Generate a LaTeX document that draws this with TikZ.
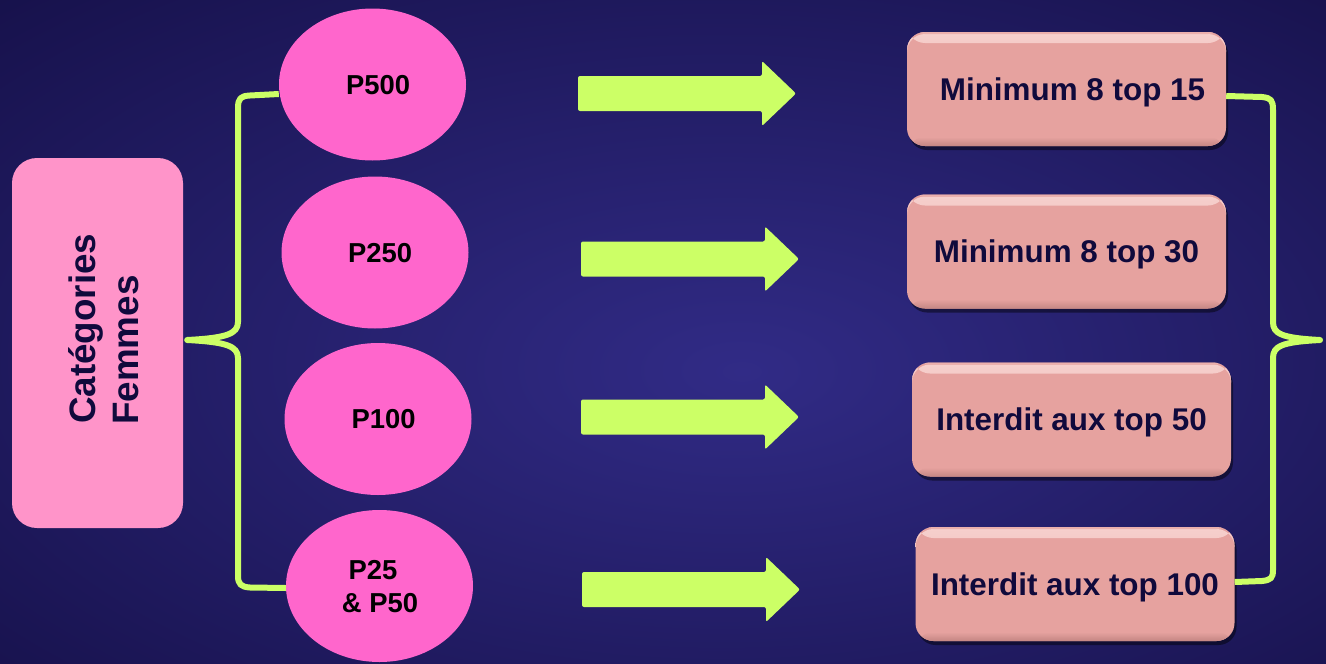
\documentclass[tikz,border=0pt]{standalone}
\usepackage{fontspec}
\setmainfont{Liberation Sans}
\usetikzlibrary{shapes.geometric,shadows,calc}
\definecolor{bgin}{RGB}{49,43,134}
\definecolor{bgout}{RGB}{13,8,54}
\definecolor{lime}{HTML}{CCFF66}
\definecolor{catpink}{HTML}{FF94C9}
\definecolor{ovpink}{HTML}{FF66CC}
\definecolor{salmon}{HTML}{E6A29F}
\definecolor{salmonhi}{HTML}{F6D0CD}
\definecolor{salmonlo}{HTML}{C48683}
\definecolor{navy}{HTML}{100A3C}
\pgfdeclareradialshading{bgshade}{\pgfpoint{3bp}{-3bp}}{color(0bp)=(bgin); color(52bp)=(bgout); color(80bp)=(bgout)}
\tikzset{
  catbox/.style={rectangle, rounded corners=25pt, fill=catpink, minimum width=171pt, minimum height=370pt, inner sep=0pt},
  cattext/.style={rotate=90, anchor=base west, inner sep=0pt, text=navy, font=\bfseries\fontsize{36.8pt}{43pt}\selectfont},
  oval/.style={ellipse, fill=ovpink, minimum width=187pt, minimum height=152pt, inner sep=0pt, text=black, align=center, text depth=0pt, font=\bfseries\fontsize{27.4pt}{33pt}\selectfont},
  rulebox/.style={rectangle, rounded corners=18pt, fill=salmon, minimum width=319pt, minimum height=114pt, inner sep=0pt, text=navy, text depth=0pt,
    font=\bfseries\fontsize{31.4pt}{37pt}\selectfont,
    drop shadow={shadow xshift=2pt, shadow yshift=-4pt, opacity=0.45, fill=black},
    path picture={
      \shade[top color=salmonhi, bottom color=salmon] ([yshift=-2pt]path picture bounding box.north west) rectangle ([yshift=-11pt]path picture bounding box.north east);
      \fill[salmon!70!salmonhi] (path picture bounding box.north west) rectangle ([yshift=-2pt]path picture bounding box.north east);
      \shade[top color=salmon, bottom color=salmonlo] ([yshift=9pt]path picture bounding box.south west) rectangle (path picture bounding box.south east);
    }},
  bracket/.style={draw=lime, line width=6pt, line join=round},
  fatarrow/.pic={\fill[lime, rounded corners=2pt] (0,-17.5) -- (184,-17.5) -- (184,-32.5) -- (218,0) -- (184,32.5) -- (184,17.5) -- (0,17.5) -- cycle;}
}
\begin{document}
\begin{tikzpicture}[x=1pt,y=-1pt]
\useasboundingbox (0,0) rectangle (1326,664);
\shade[shading=bgshade] (0,0) rectangle (1326,664);

% left category box
\node[catbox] (cat) at (97.5,343) {};
\node[cattext] (catl1) at (95,424) {Catégories};
\node[cattext] (catl2) at (138,425) {Femmes};

% ellipses
\node[oval] (p500) at (372.5,84.5) {\rule{11pt}{0pt}P500};
\node[oval] (p250) at (375,252.5) {\rule{10pt}{0pt}P250};
\node[oval] (p100) at (378,419) {\rule{11pt}{0pt}P100};
\node[oval] (p25) at (379.5,586) {P25\rule{13pt}{0pt}\\ \rule{1pt}{0pt}\& P50};

% arrows
\pic (a1) at (578,93.5) {fatarrow};
\pic (a2) at (581,259) {fatarrow};
\pic (a3) at (581,417) {fatarrow};
\pic (a4) at (582,589.5) {fatarrow};

% right boxes
\node[rulebox] (b1) at (1066.5,89) {\rule{12pt}{0pt}Minimum 8 top 15};
\node[rulebox] (b2) at (1066.5,251.5) {Minimum 8 top 30};
\node[rulebox] (b3) at (1071.5,419.5) {Interdit aux top 50};
\node[rulebox] (b4) at (1075,584) {Interdit aux top 100};

% left brace
\draw[bracket] ([yshift=-9.5pt]p500.west) -- (250,95.5)
  .. controls (241,96) and (238,98) .. (238,108) -- (238,322)
  .. controls (238,334) and (226,338) .. ([xshift=4pt,yshift=3pt]cat.east)
  .. controls (226,342) and (238,346) .. (238,358) -- (238,576)
  .. controls (238,584) and (241,587) .. (250,587.5) -- ([yshift=-2pt]p25.west);

% right brace
\coordinate (rtip) at (1320,340);
\draw[bracket] ([yshift=-7pt]b1.east) -- (1262,97)
  .. controls (1271,98) and (1273,100) .. (1273,110) -- (1273,322)
  .. controls (1273,334) and (1282,338) .. (rtip)
  .. controls (1282,342) and (1273,346) .. (1273,358) -- (1273,570)
  .. controls (1273,578) and (1271,580) .. (1262,581) -- ([yshift=2pt]b4.east);
\end{tikzpicture}
\end{document}
